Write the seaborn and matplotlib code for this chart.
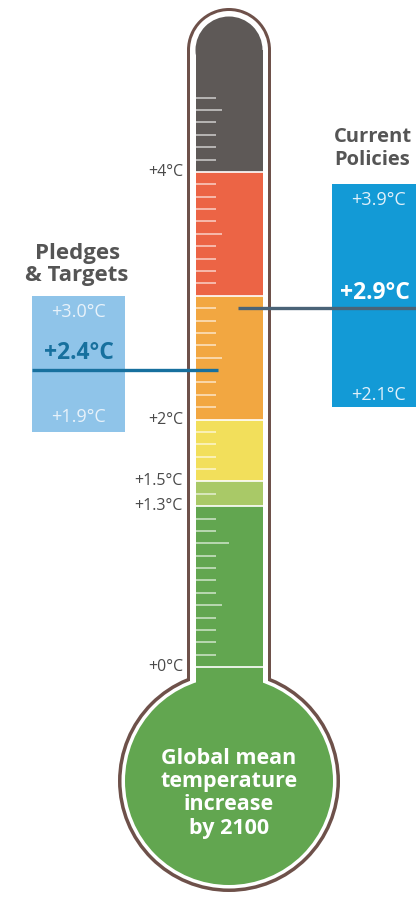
import numpy as np
import matplotlib
matplotlib.use("Agg")
import matplotlib.pyplot as plt
from matplotlib.patches import Rectangle, Ellipse
import seaborn as sns

# ---------------- data ----------------
seg_bottoms = [0.0, 1.3, 1.5, 2.0, 3.0, 4.0]
seg_tops = [1.3, 1.5, 2.0, 3.0, 4.0, 5.0]
seg_colors = ["#62a650", "#a9c967", "#f2df5b", "#f2a741", "#ec6445", "#5e5957"]
scale_labels = ["+4°C", "+2°C", "+1.5°C", "+1.3°C", "+0°C"]
scale_values = [4.0, 2.0, 1.5, 1.3, 0.0]

pledge_low, pledge_mid, pledge_high = 1.9, 2.4, 3.0
policy_low, policy_mid, policy_high = 2.1, 2.9, 3.9
pledge_labels = ["+3.0°C", "+2.4°C", "+1.9°C"]
policy_labels = ["+3.9°C", "+2.9°C", "+2.1°C"]

# ---------------- layout ----------------
sns.set_theme(style="white")
plt.rcParams["font.family"] = ["Open Sans", "DejaVu Sans"]

PXD = 123.75      # pixels per degree
ZERO = 667        # pixel row of 0 °C


def T(px):
    return (ZERO - px) / PXD


def d(px):
    return px / PXD


fig = plt.figure(figsize=(4.16, 9.0), dpi=100)
ax = fig.add_axes([0, 0, 1, 1])
ax.set_xlim(0, 416)
ax.set_ylim(T(900), T(0))
ax.axis("off")

cx = 229
top_c = T(50)
bulb_c = T(781)

brown = "#6e514a"


def layer(hw, r, color, z):
    ax.add_patch(Rectangle((cx - hw, bulb_c), 2 * hw, top_c - bulb_c,
                           facecolor=color, edgecolor="none", zorder=z))
    ax.add_patch(Ellipse((cx, top_c), 2 * hw, d(2 * hw),
                         facecolor=color, edgecolor="none", zorder=z))
    ax.add_patch(Ellipse((cx, bulb_c), 2 * r, d(2 * r),
                         facecolor=color, edgecolor="none", zorder=z))


layer(42, 111, brown, 1)
layer(39, 107.5, "white", 2)

# fill
hw = 33.5
ax.add_patch(Ellipse((cx, bulb_c), 2 * 104, d(2 * 104),
                     facecolor=seg_colors[0], edgecolor="none", zorder=3))
ax.bar(cx, 0 - bulb_c, bottom=bulb_c, width=2 * hw, color=seg_colors[0],
       edgecolor="none", zorder=3)
heights = [t - b for t, b in zip(seg_tops[:-1], seg_bottoms[:-1])]
ax.bar([cx] * 5, heights, bottom=seg_bottoms[:-1], width=2 * hw,
       color=seg_colors[:-1], edgecolor="none", zorder=3)
ax.bar(cx, top_c - 4.0, bottom=4.0, width=2 * hw, color=seg_colors[-1],
       edgecolor="none", zorder=3)
ax.add_patch(Ellipse((cx, top_c), 2 * hw, d(2 * hw),
                     facecolor=seg_colors[-1], edgecolor="none", zorder=3))

# separators
ax.hlines(seg_bottoms, cx - hw, cx + hw, color="white", lw=1.4, alpha=0.85, zorder=4)

# tick marks
ticks = [round(v, 1) for v in np.arange(0.1, 4.65, 0.1)]
ticks = [v for v in ticks if v not in (1.3, 1.5, 2.0, 3.0, 4.0)]
lens = []
for v in ticks:
    if abs(v - round(v)) < 1e-6:
        lens.append(33)
    elif abs(v * 2 - round(v * 2)) < 1e-6:
        lens.append(26)
    else:
        lens.append(20)
x0 = cx - hw
ax.hlines(ticks, x0, [x0 + L for L in lens], color="white", lw=1.1,
          alpha=0.7, zorder=4)

# scale labels
for lab, v in zip(scale_labels, scale_values):
    ax.text(183, v, lab, ha="right", va="center", fontsize=11.5,
            color="#4a4a4a", zorder=5)

# pledges box
ax.bar(32, pledge_high - pledge_low, bottom=pledge_low, width=93, align="edge",
       color="#8fc4e9", edgecolor="none", zorder=3)
ax.hlines(pledge_mid, 32, 218, color="#17709e", lw=2.4, zorder=6)
ax.text(78.5, T(312), pledge_labels[0], ha="center", va="center",
        fontsize=13, color="#e8f2fa", zorder=5)
ax.text(78.5, T(353), pledge_labels[1], ha="center", va="center",
        fontsize=16.5, fontweight="bold", color="#17709e", zorder=5)
ax.text(78.5, T(417), pledge_labels[2], ha="center", va="center",
        fontsize=13, color="#e8f2fa", zorder=5)
ax.text(77.5, T(253), "Pledges", ha="center", va="center", fontsize=16,
        fontweight="bold", color="#555555")
ax.text(76.5, T(276), "& Targets", ha="center", va="center", fontsize=16,
        fontweight="bold", color="#555555")

# current policies box
ax.bar(332, policy_high - policy_low, bottom=policy_low, width=100, align="edge",
       color="#139ad6", edgecolor="none", zorder=3)
ax.hlines(policy_mid, 238, 416, color="#4a6377", lw=2.4, zorder=6)
ax.text(378, T(200), policy_labels[0], ha="center", va="center",
        fontsize=13, color="#e0f0fa", zorder=5)
ax.text(340, T(293), policy_labels[1], ha="left", va="center",
        fontsize=16.5, fontweight="bold", color="white", zorder=5)
ax.text(378, T(395), policy_labels[2], ha="center", va="center",
        fontsize=13, color="#e0f0fa", zorder=5)
ax.text(334, T(137), "Current", ha="left", va="center", fontsize=14.5,
        fontweight="bold", color="#555555")
ax.text(334, T(160), "Policies", ha="left", va="center", fontsize=14.5,
        fontweight="bold", color="#555555")

# bulb text
for i, line in enumerate(["Global mean", "temperature", "increase", "by 2100"]):
    ax.text(cx, T(758 + 23.5 * i), line, ha="center", va="center",
            fontsize=15.5, fontweight="bold", color="white", zorder=6)

fig.savefig("out.png", dpi=100)
